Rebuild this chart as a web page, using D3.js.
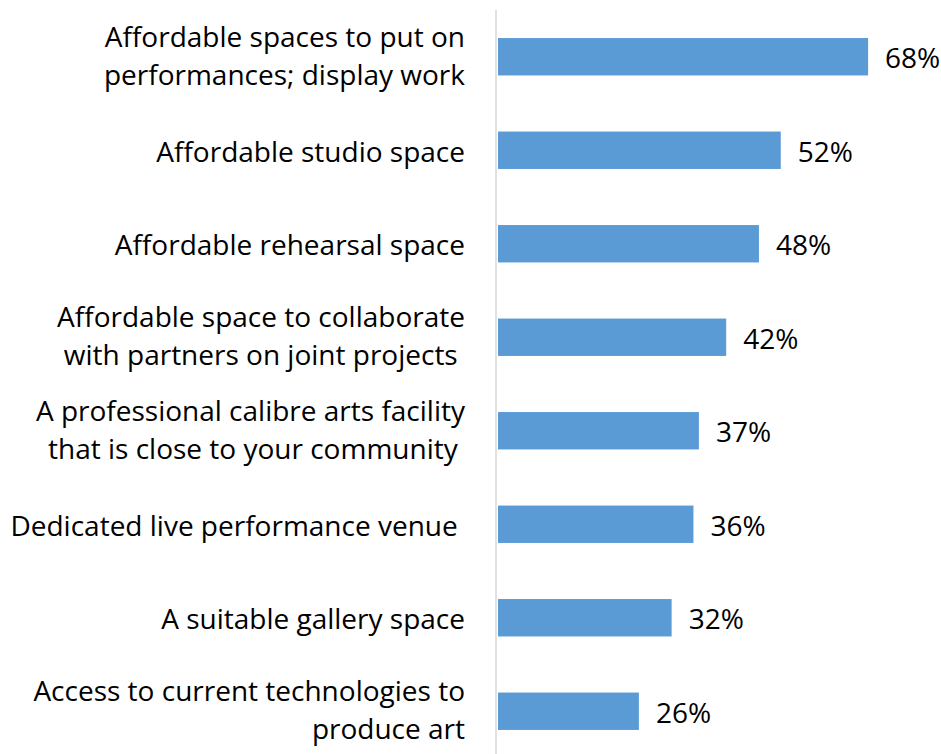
<!DOCTYPE html>
<html>
<head>
<meta charset="utf-8">
<script src="https://cdn.jsdelivr.net/npm/d3@7"></script>
<style>
  html, body { margin: 0; padding: 0; background: #fff; }
  svg text { font-family: "Open Sans", sans-serif; fill: #000; white-space: pre; }
</style>
</head>
<body>
<svg id="chart" width="941" height="754"></svg>
<script>
// Facility needs, share of respondents (%)
const categories = [
  ["Affordable spaces to put on", "performances; display work"],
  ["Affordable studio space"],
  ["Affordable rehearsal space"],
  ["Affordable space to collaborate", "with partners on joint projects "],
  ["A professional calibre arts facility", "that is close to your community "],
  ["Dedicated live performance venue "],
  ["A suitable gallery space"],
  ["Access to current technologies to", "produce art"]
];
const values = [68, 52, 48, 42, 37, 36, 32, 26];
const valueLabels = ["68%", "52%", "48%", "42%", "37%", "36%", "32%", "26%"];

const svg = d3.select("#chart");
const fontSize = 28;
const lineHeight = 38;
const baselineShift = 11.5;

const x = d3.scaleLinear().domain([0, 70]).range([497, 879]);
const y = d3.scaleBand()
  .domain(d3.range(categories.length))
  .range([10, 758])
  .paddingInner(0.6)
  .paddingOuter(0.3);

// vertical category axis line
svg.append("line")
  .attr("x1", 496).attr("x2", 496)
  .attr("y1", y.range()[0]).attr("y2", y.range()[1])
  .attr("stroke", "#d9d9d9")
  .attr("stroke-width", 1.5);

// bars
svg.selectAll("rect.bar")
  .data(values)
  .join("rect")
  .attr("class", "bar")
  .attr("x", x(0) + 1)
  .attr("y", (d, i) => y(i))
  .attr("width", d => x(d) - x(0) - 1)
  .attr("height", y.bandwidth())
  .attr("fill", "#5b9bd5");

// value labels
svg.selectAll("text.val")
  .data(values)
  .join("text")
  .attr("class", "val")
  .attr("x", d => x(d) + 17)
  .attr("y", (d, i) => y(i) + y.bandwidth() / 2 + baselineShift)
  .attr("font-size", fontSize)
  .text((d, i) => valueLabels[i]);

// category labels, right-aligned next to the axis
const labels = svg.selectAll("text.cat")
  .data(categories)
  .join("text")
  .attr("class", "cat")
  .attr("text-anchor", "end")
  .attr("font-size", fontSize)
  .attr("y", (d, i) => y(i) + y.bandwidth() / 2);

labels.selectAll("tspan")
  .data(d => d.map((line, k) => ({ line, k, n: d.length })))
  .join("tspan")
  .attr("x", 465)
  .attr("dy", t => t.k === 0
    ? baselineShift - (t.n - 1) * lineHeight / 2 - (t.n > 1 ? 2.5 : 0)
    : lineHeight)
  .text(t => t.line);
</script>
</body>
</html>
